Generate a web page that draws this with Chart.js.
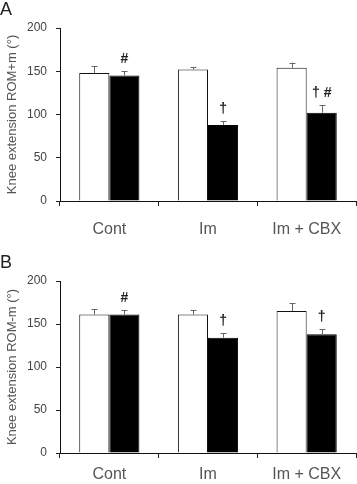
<!DOCTYPE html>
<html>
<head>
<meta charset="utf-8">
<title>Knee extension ROM</title>
<script src="https://cdn.jsdelivr.net/npm/chart.js@4.4.0/dist/chart.umd.min.js"></script>
<style>
    body { margin: 0; background: #fff; font-family: "Liberation Sans", Arial, sans-serif; }
    .wrap { position: relative; width: 357px; height: 484px; overflow: hidden; }
    .panel { position: absolute; left: 0; width: 357px; }
    .letter { position: absolute; left: 0; font-size: 18px; color: #222; line-height: 1; }
</style>
</head>
<body>
<div class="wrap">
    <div class="panel" style="top:0"><canvas id="chartA" width="357" height="242"></canvas></div>
    <div class="panel" style="top:253px"><canvas id="chartB" width="357" height="231"></canvas></div>
    <div class="letter" style="top:0">A</div>
    <div class="letter" style="top:253px">B</div>
</div>
<script>
// --- DATA ---
const categories = ['Cont', 'Im', 'Im + CBX'];
const yTicks = [0, 50, 100, 150, 200];

// panel A: ROM+m
const plusWhite = [148, 152, 154];
const plusWhiteErr = [8, 3, 6];
const plusBlack = [145, 88, 102];
const plusBlackErr = [5, 4, 9];
const plusMarks = ['#', '†', '† #'];

// panel B: ROM-m
const minusWhite = [161, 161, 165];
const minusWhiteErr = [6, 5, 9];
const minusBlack = [161, 134, 138];
const minusBlackErr = [5, 5, 6];
const minusMarks = ['#', '†', '†'];

// --- PLUGIN: one-sided error bars + significance marks ---
const errorBars = {
    id: 'errorBars',
    afterDatasetsDraw(chart) {
        const ctx = chart.ctx;
        const y = chart.scales.y;
        ctx.save();
        chart.data.datasets.forEach((ds, di) => {
            const meta = chart.getDatasetMeta(di);
            meta.data.forEach((bar, i) => {
                const top = y.getPixelForValue(ds.data[i]);
                const errTop = y.getPixelForValue(ds.data[i] + ds.err[i]);
                const cx = Math.round(bar.x) + 0.5;
                ctx.strokeStyle = '#666';
                ctx.lineWidth = 1;
                ctx.beginPath();
                ctx.moveTo(cx, top);
                ctx.lineTo(cx, errTop);
                ctx.moveTo(cx - 3, Math.round(errTop) + 0.5);
                ctx.lineTo(cx + 3, Math.round(errTop) + 0.5);
                ctx.stroke();
                if (ds.marks && ds.marks[i]) {
                    ctx.fillStyle = '#222';
                    ctx.font = 'bold 14px "Liberation Sans", Arial, sans-serif';
                    ctx.textAlign = 'center';
                    ctx.textBaseline = 'middle';
                    ctx.fillText(ds.marks[i], bar.x, errTop - 12);
                }
            });
        });
        ctx.restore();
    }
};

function makeChart(canvasId, white, whiteErr, black, blackErr, marks, title, xHeight, labelPad) {
    return new Chart(document.getElementById(canvasId), {
        type: 'bar',
        data: {
            labels: categories,
            datasets: [{
                data: white,
                err: whiteErr,
                backgroundColor: '#fff',
                borderColor: '#111',
                borderWidth: 1
            }, {
                data: black,
                err: blackErr,
                marks: marks,
                backgroundColor: '#000',
                borderColor: '#000',
                borderWidth: 1
            }]
        },
        options: {
            responsive: false,
            animation: false,
            devicePixelRatio: 1,
            layout: { padding: { top: 28, right: 1, left: 0, bottom: 0 } },
            plugins: { legend: { display: false }, tooltip: { enabled: false } },
            datasets: { bar: { categoryPercentage: 0.61, barPercentage: 1 } },
            scales: {
                x: {
                    grid: { display: true, drawOnChartArea: false, drawTicks: true, tickLength: 5, color: '#222', offset: true },
                    border: { display: true, color: '#111', width: 1 },
                    ticks: { color: '#555', font: { size: 16, family: '"Liberation Sans", Arial' }, padding: labelPad },
                    afterFit: s => { s.height = xHeight; }
                },
                y: {
                    min: 0,
                    max: 200,
                    afterBuildTicks: s => { s.ticks = yTicks.map(v => ({ value: v })); },
                    grid: { display: true, drawOnChartArea: false, drawTicks: true, tickLength: 4, color: '#222' },
                    border: { display: true, color: '#111', width: 1 },
                    ticks: { color: '#444', font: { size: 12, family: '"Liberation Sans", Arial' }, padding: 9 },
                    title: { display: true, text: title, color: '#555', font: { size: 13, family: '"Liberation Sans", Arial' }, padding: { top: 5, bottom: 0 } },
                    afterFit: s => { s.width = 60; }
                }
            }
        },
        plugins: [errorBars]
    });
}

makeChart('chartA', plusWhite, plusWhiteErr, plusBlack, plusBlackErr, plusMarks, 'Knee extension ROM+m (°)', 41, 14);
makeChart('chartB', minusWhite, minusWhiteErr, minusBlack, minusBlackErr, minusMarks, 'Knee extension ROM-m (°)', 31, 7);
</script>
</body>
</html>
